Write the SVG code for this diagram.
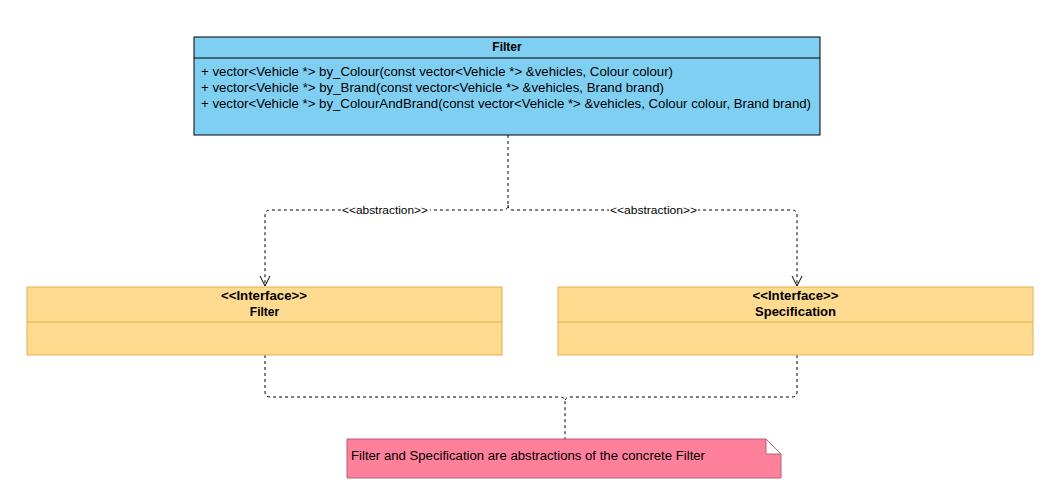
<svg xmlns="http://www.w3.org/2000/svg" width="1046" height="498" viewBox="0 0 1046 498">
<defs>
<style>
text{font-family:"Liberation Sans",Arial,Helvetica,sans-serif;fill:#000}
.t{font-size:12.5px}
.b{font-size:12px;font-weight:bold}
.lbl{font-size:10.5px}
.cls{fill:#7fcff3;stroke:#000;stroke-width:1}
.itf{fill:#ffdb90;stroke:#e6ae48;stroke-width:1}
.con{fill:none;stroke:#000;stroke-width:1;stroke-dasharray:3 3}
.note{fill:#ff809b;stroke:#b3607c;stroke-width:1}
</style>
<marker id="open" viewBox="0 0 12 12" refX="11" refY="6" markerWidth="12" markerHeight="12" markerUnits="userSpaceOnUse" orient="auto">
<path d="M1,1 L11,6 L1,11" fill="none" stroke="#000" stroke-width="1"/>
</marker>
</defs>
<rect width="1046" height="498" fill="#fff"/>
<g id="connectors">
<path class="con" d="M508,135 V205 Q508,210 503,210 H270 Q265,210 265,215 V286" marker-end="url(#open)"/>
<path class="con" d="M508,205 Q508,210 513,210 H792 Q797,210 797,215 V286" marker-end="url(#open)"/>
<path class="con" d="M265,355 V392 Q265,397 270,397 H560 Q565,397 565,402 V439"/>
<path class="con" d="M797,355 V392 Q797,397 792,397 H570 Q565,397 565,402"/>
<rect x="341" y="204" width="89" height="13" fill="#fff"/>
<text class="lbl" x="342" y="214" textLength="86" lengthAdjust="spacingAndGlyphs">&lt;&lt;abstraction&gt;&gt;</text>
<rect x="609" y="204" width="89" height="13" fill="#fff"/>
<text class="lbl" x="610" y="214" textLength="87" lengthAdjust="spacingAndGlyphs">&lt;&lt;abstraction&gt;&gt;</text>
</g>
<g id="filter-class">
<rect class="cls" x="194" y="37" width="626" height="98"/>
<line x1="194" y1="58" x2="820" y2="58" stroke="#000"/>
<text class="b" x="507" y="51" text-anchor="middle">Filter</text>
<text class="t" x="201" y="76" textLength="472" lengthAdjust="spacingAndGlyphs">+ vector&lt;Vehicle *&gt; by_Colour(const vector&lt;Vehicle *&gt; &amp;vehicles, Colour colour)</text>
<text class="t" x="201" y="92" textLength="463" lengthAdjust="spacingAndGlyphs">+ vector&lt;Vehicle *&gt; by_Brand(const vector&lt;Vehicle *&gt; &amp;vehicles, Brand brand)</text>
<text class="t" x="201" y="108" textLength="610" lengthAdjust="spacingAndGlyphs">+ vector&lt;Vehicle *&gt; by_ColourAndBrand(const vector&lt;Vehicle *&gt; &amp;vehicles, Colour colour, Brand brand)</text>
</g>
<g id="filter-interface">
<rect class="itf" x="27" y="287" width="475" height="68"/>
<line x1="27" y1="322" x2="502" y2="322" stroke="#e6ae48"/>
<text class="b" x="221" y="300" textLength="86" lengthAdjust="spacingAndGlyphs">&lt;&lt;Interface&gt;&gt;</text>
<text class="b" x="264.5" y="316" text-anchor="middle">Filter</text>
</g>
<g id="specification-interface">
<rect class="itf" x="558" y="287" width="475" height="68"/>
<line x1="558" y1="322" x2="1033" y2="322" stroke="#e6ae48"/>
<text class="b" x="752.5" y="300" textLength="86" lengthAdjust="spacingAndGlyphs">&lt;&lt;Interface&gt;&gt;</text>
<text class="b" x="755" y="316" textLength="81" lengthAdjust="spacingAndGlyphs">Specification</text>
</g>
<g id="note">
<path class="note" d="M347,439 H766 L781,454 V478 H347 Z"/>
<path d="M766,439 L781,454 H766 Z" fill="#fff" stroke="#b3607c"/>
<text class="t" x="351" y="460" textLength="354" lengthAdjust="spacingAndGlyphs">Filter and Specification are abstractions of the concrete Filter</text>
</g>
</svg>
